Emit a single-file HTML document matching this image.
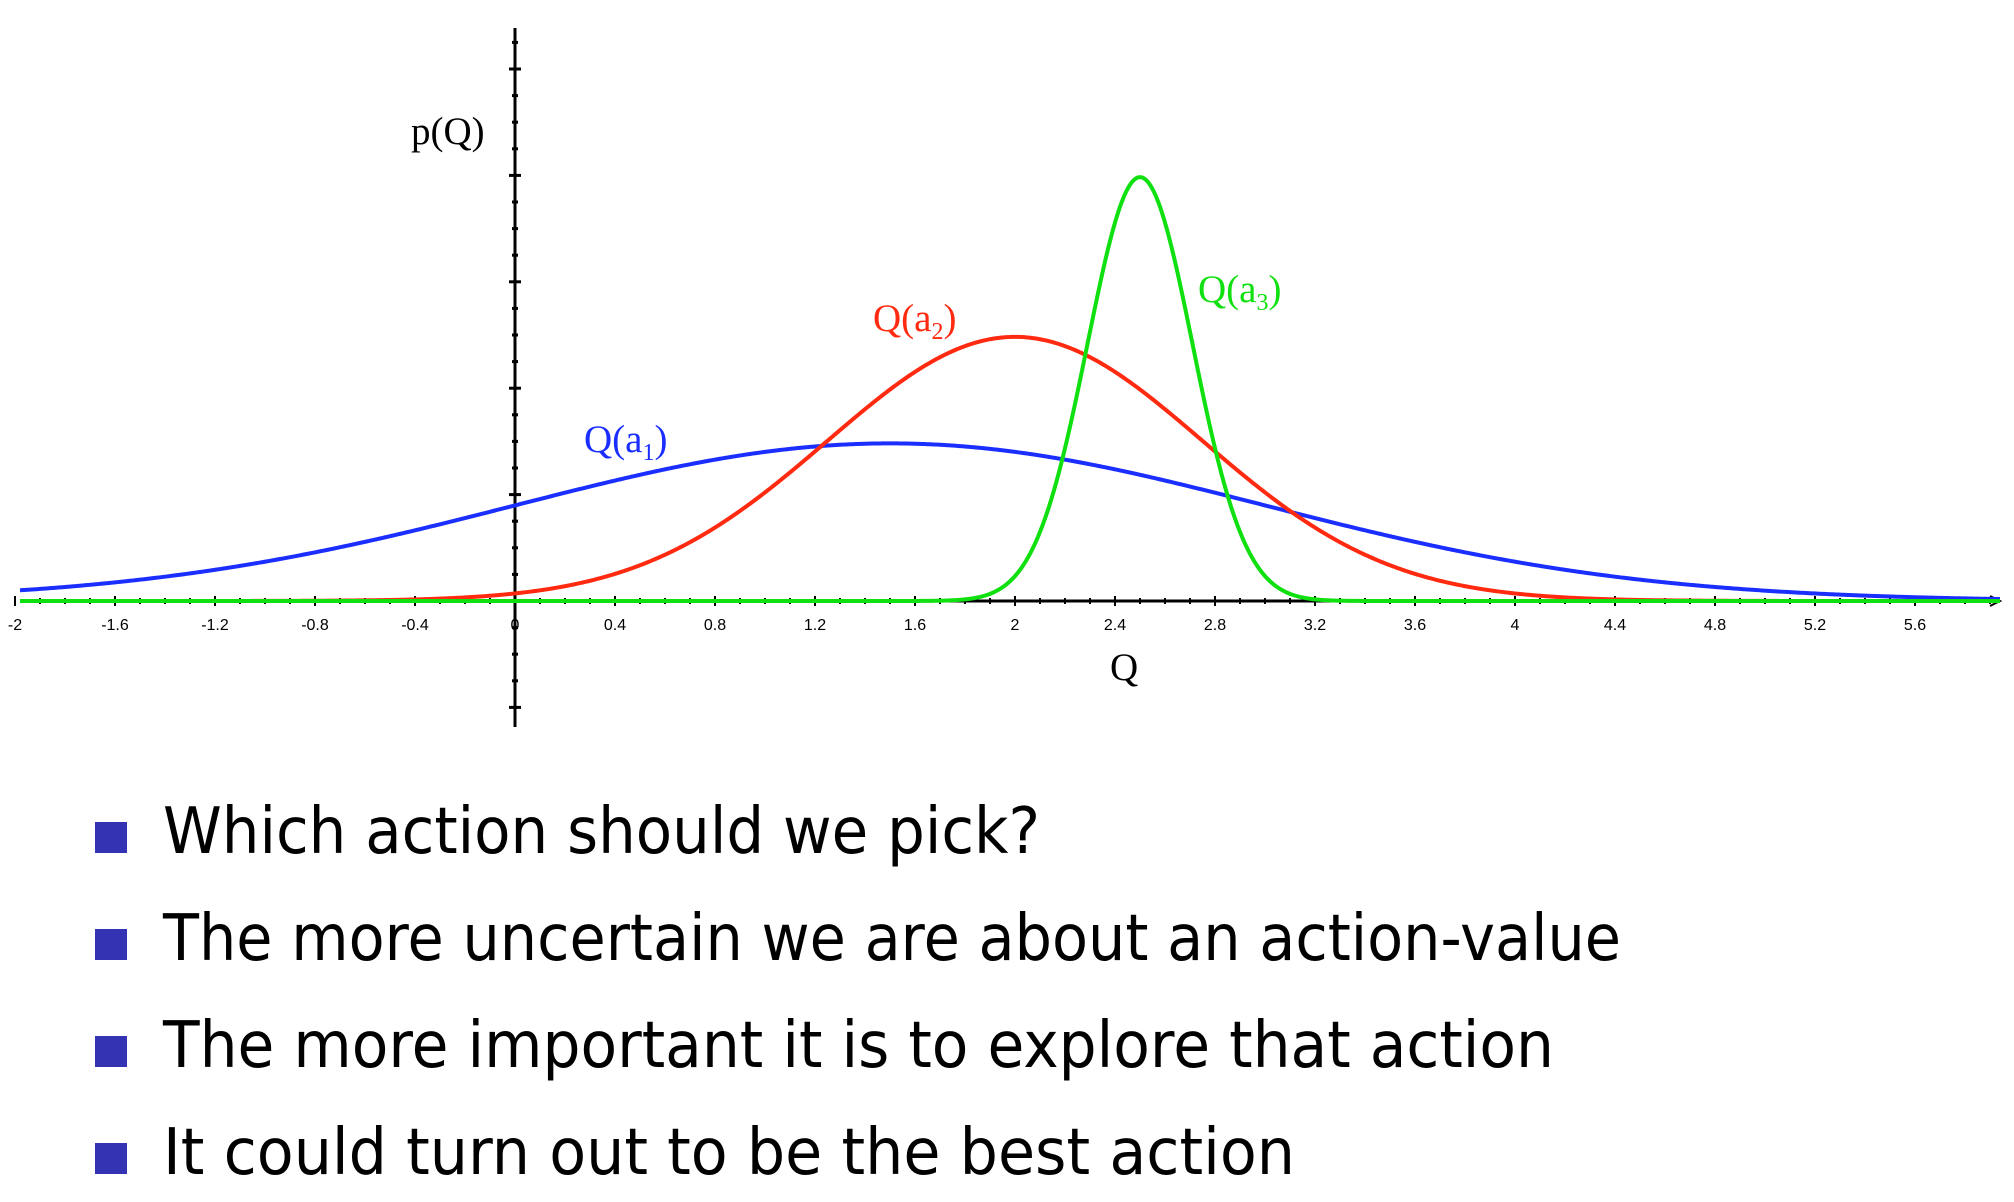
<!DOCTYPE html>
<html><head><meta charset="utf-8"><style>
html,body{margin:0;padding:0;background:#fff;}
svg{display:block;}
</style></head><body>
<svg id="chart" width="2014" height="1202" viewBox="0 0 2014 1202" xmlns="http://www.w3.org/2000/svg">
<g id="axes"></g>
<g id="curves"></g>
<text x="411" y="144" font-family="Liberation Serif, serif" font-size="39">p(Q)</text>
<text x="1110" y="680" font-family="Liberation Serif, serif" font-size="39">Q</text>
<text x="584" y="452" fill="#1a2eff" font-family="Liberation Serif, serif" font-size="39">Q(a<tspan font-size="24" dy="8">1</tspan><tspan dy="-8">)</tspan></text>
<text x="873" y="331" fill="#ff2a10" font-family="Liberation Serif, serif" font-size="39">Q(a<tspan font-size="24" dy="8">2</tspan><tspan dy="-8">)</tspan></text>
<text x="1198" y="302" fill="#10e010" font-family="Liberation Serif, serif" font-size="39">Q(a<tspan font-size="24" dy="8">3</tspan><tspan dy="-8">)</tspan></text>
<g font-family="DejaVu Sans, Liberation Sans, sans-serif" font-size="64">
<rect x="95" y="822" width="32" height="31" fill="#3333b3"/>
<text x="163" y="853" textLength="877" lengthAdjust="spacingAndGlyphs">Which action should we pick?</text>
<rect x="95" y="929" width="32" height="31" fill="#3333b3"/>
<text x="163" y="960" textLength="1458" lengthAdjust="spacingAndGlyphs">The more uncertain we are about an action-value</text>
<rect x="95" y="1036" width="32" height="31" fill="#3333b3"/>
<text x="163" y="1067" textLength="1391" lengthAdjust="spacingAndGlyphs">The more important it is to explore that action</text>
<rect x="95" y="1143" width="32" height="31" fill="#3333b3"/>
<text x="163" y="1174" textLength="1132" lengthAdjust="spacingAndGlyphs">It could turn out to be the best action</text>
</g>
</svg>
<script>
const seriesNames = ["a1","a2","a3"];
const seriesMeans = [1.5, 2.0, 2.5];
const seriesSigmas = [1.5, 0.75, 0.21];
const seriesPeaks = [0.74, 1.24, 1.99];
const seriesColors = ["#1a2eff","#ff2a10","#10e010"];
const xTickLabels = ["-2","-1.6","-1.2","-0.8","-0.4","0","0.4","0.8","1.2","1.6","2","2.4","2.8","3.2","3.6","4","4.4","4.8","5.2","5.6"];
const NS="http://www.w3.org/2000/svg";
const x0=515, pxPerX=250, y0=601, pxPerY=213;
const X=v=>x0+v*pxPerX, Y=v=>y0-v*pxPerY;
const axes=document.getElementById('axes'), curves=document.getElementById('curves');
function mk(tag,attrs,parent){const e=document.createElementNS(NS,tag);for(const k in attrs)e.setAttribute(k,attrs[k]);parent.appendChild(e);return e;}
let a=mk('line',{x1:20,y1:y0,x2:1997,y2:y0,stroke:'#000','stroke-width':3},axes);


let ar=mk('path',{d:`M1990 ${y0-5} L2000 ${y0} L1990 ${y0+5}`,fill:'none',stroke:'#000','stroke-width':2},axes);


let ya=mk('line',{x1:x0,y1:28,x2:x0,y2:727,stroke:'#000','stroke-width':3},axes);


for(let i=-20;i<=59;i++){const v=i/10;const major=(i%4===0);
 const t=mk('line',{x1:X(v),x2:X(v),y1:y0-(major?5:3),y2:y0+(major?5:3),stroke:'#000','stroke-width':2},axes);
 
 }
xTickLabels.forEach(s=>{const v=parseFloat(s);
 const t=mk('text',{x:X(v),y:630,'text-anchor':'middle','font-family':'Liberation Sans Narrow, Liberation Sans, sans-serif','font-size':16},axes);
 t.textContent=s;
 
 });
for(let i=-4;i<=21;i++){if(i===0)continue;const yy=y0-i*26.6;if(yy<30||yy>725)continue;const major=(i%4===0);
 const t=mk('line',{x1:x0-(major?6:3),x2:x0+(major?6:3),y1:yy,y2:yy,stroke:'#000','stroke-width':3},axes);
 
 }
seriesNames.forEach((n,k)=>{let d='';
 for(let px=20;px<=2000;px+=2){const v=(px-x0)/pxPerX;const yv=seriesPeaks[k]*Math.exp(-Math.pow(v-seriesMeans[k],2)/(2*seriesSigmas[k]*seriesSigmas[k]));
  d+=(d?'L':'M')+px+' '+Y(yv).toFixed(2)+' ';}
 const p=mk('path',{d:d,fill:'none',stroke:seriesColors[k],'stroke-width':4},curves);
 
 });
</script>
</body></html>
